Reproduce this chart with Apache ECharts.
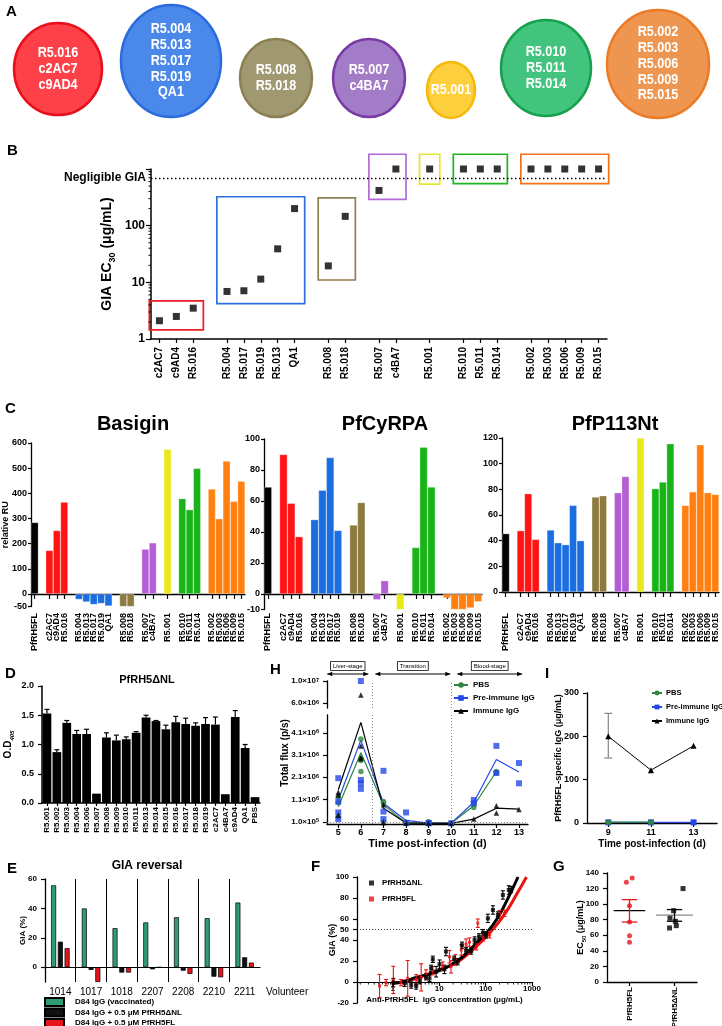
<!DOCTYPE html>
<html>
<head>
<meta charset="utf-8">
<title>PfRH5 mAb panels</title>
<script src="https://cdn.jsdelivr.net/npm/echarts@6/dist/echarts.min.js"></script>
<style>
  html, body { margin: 0; padding: 0; background: #fff; }
  #page { position: relative; width: 722px; height: 1026px; overflow: hidden; }
  .layer { position: absolute; left: 0; top: 0; width: 722px; height: 1026px; }
</style>
</head>
<body>
<div id="page"></div>
<script>
const FONT = '"Liberation Sans", Arial, Helvetica, sans-serif';

// ---- A: epitope bins ----
const clusterNames = [
  ["R5.016", "c2AC7", "c9AD4"],
  ["R5.004", "R5.013", "R5.017", "R5.019", "QA1"],
  ["R5.008", "R5.018"],
  ["R5.007", "c4BA7"],
  ["R5.001"],
  ["R5.010", "R5.011", "R5.014"],
  ["R5.002", "R5.003", "R5.006", "R5.009", "R5.015"]
];

// ---- B: GIA EC30, "" is a gap between bins ----
const giaCats = ["c2AC7", "c9AD4", "R5.016", "", "R5.004", "R5.017", "R5.019", "R5.013", "QA1", "",
  "R5.008", "R5.018", "", "R5.007", "c4BA7", "", "R5.001", "", "R5.010", "R5.011", "R5.014", "",
  "R5.002", "R5.003", "R5.006", "R5.009", "R5.015"];
const giaEC30 = [2.1, 2.5, 3.5, null, 6.9, 7.1, 11.4, 39, 200, null, 19.5, 146, null, 418, 1000, null,
  1000, null, 1000, 1000, 1000, null, 1000, 1000, 1000, 1000, 1000];
const giaNegligible = 700;
// [first index, last index, low, high] of each bin box
const giaBins = [[0, 2, 1.45, 4.7], [4, 8, 4.2, 324], [10, 11, 11, 310], [13, 14, 290, 1820],
  [16, 16, 540, 1820], [18, 20, 550, 1820], [22, 26, 550, 1820]];
const giaMinorTicks = [2, 3, 4, 5, 6, 7, 8, 9, 20, 30, 40, 50, 60, 70, 80, 90, 200, 300, 400, 500, 600, 700, 800, 900];

// ---- C: binding (relative RU) ----
const bsgCats = ["PfRH5FL", "", "c2AC7", "c9AD4", "R5.016", "", "R5.004", "R5.013", "R5.017", "R5.019", "QA1", "",
  "R5.008", "R5.018", "", "R5.007", "c4BA7", "", "R5.001", "", "R5.010", "R5.011", "R5.014", "",
  "R5.002", "R5.003", "R5.006", "R5.009", "R5.015"];
const bsgRU = [284, null, 173, 252, 365, null, -22, -32, -42, -38, -48, null, -50, -50, null, 178, 203, null,
  575, null, 379, 335, 499, null, 417, 299, 528, 368, 448];
const cyrCats = ["PfRH5FL", "", "c2AC7", "c9AD4", "R5.016", "", "R5.004", "R5.013", "R5.017", "R5.019", "",
  "R5.008", "R5.018", "", "R5.007", "c4BA7", "", "R5.001", "", "R5.010", "R5.011", "R5.014", "",
  "R5.002", "R5.003", "R5.006", "R5.009", "R5.015"];
const cyrRU = [69, null, 90, 58.5, 37, null, 48, 67, 88, 41, null, 44.5, 59, null, -3.7, 8.6, null,
  -10, null, 30, 94.6, 69, null, -2.6, -10, -10, -9, -5];
const p113Cats = bsgCats;
const p113RU = [45.5, null, 47.8, 76.6, 41, null, 48.3, 38.4, 36.9, 67.5, 40, null, 74, 75, null, 77.4, 90, null,
  120, null, 80.5, 85.7, 115.6, null, 67.5, 78, 114.8, 77.4, 76];

// ---- D: ELISA on PfRH5ΔNL ----
const odCats = ["R5.001", "R5.002", "R5.003", "R5.004", "R5.006", "R5.007", "R5.008", "R5.009", "R5.010", "R5.011",
  "R5.013", "R5.014", "R5.015", "R5.016", "R5.017", "R5.018", "R5.019", "c2AC7", "c4BA7", "c9AD4", "QA1", "PBS"];
const odMean = [1.53, 0.87, 1.37, 1.18, 1.18, 0.16, 1.12, 1.07, 1.09, 1.2, 1.46, 1.4, 1.26, 1.38, 1.35, 1.32, 1.35, 1.34, 0.15, 1.47, 0.94, 0.1];
const odErr = [0.07, 0.04, 0.04, 0.06, 0.08, 0, 0.08, 0.09, 0.04, 0.02, 0.04, 0.01, 0.07, 0.1, 0.1, 0.05, 0.11, 0.13, 0, 0.11, 0.06, 0];

// ---- E: GIA reversal ----
const volunteers = ["1014", "1017", "1018", "2207", "2208", "2210", "2211"];
const giaVacc = [55.7, 40, 26.6, 30.5, 34, 33.4, 44];
const giaPlusDNL = [17.4, -1.8, -3.6, -1.4, -2.3, -6.4, 6.8];
const giaPlusFL = [13, -10, -3.6, 0, -4.5, -6.8, 3.2];
const eSeriesNames = ["D84 IgG (vaccinated)", "D84 IgG + 0.5 μM PfRH5ΔNL", "D84 IgG + 0.5 μM PfRH5FL"];

// ---- H: total flux ----
const days = [5, 6, 7, 8, 9, 10, 11, 12, 13];
const fluxPBSMean = [0.78e6, 3.2e6, 0.86e6, 0.05e6, 0.05e6, 0.03e6, 0.82e6, 2.36e6, null];
const fluxPreMean = [1.08e6, 3.77e6, 0.93e6, 0.16e6, 0.04e6, 0.04e6, 0.98e6, 2.9e6, 2.34e6];
const fluxImmMean = [1.54e6, 4.57e6, 0.71e6, 0.04e6, 0.04e6, 0.03e6, 0.22e6, 0.71e6, 0.67e6];
const fluxPBS = [[5, 1.22e6], [5, 0.95e6], [5, 0.32e6], [6, 3.82e6], [6, 2.95e6], [6, 2.85e6], [6, 2.36e6],
  [7, 1.01e6], [7, 0.93e6], [7, 0.1e6], [8, 0.05e6], [8, 0.08e6], [9, 0.1e6], [9, 0.06e6], [10, 0.04e6],
  [11, 0.74e6], [11, 0.9e6], [12, 2.36e6], [12, 2.3e6]];
const fluxPre = [[5, 2.06e6], [5, 1.01e6], [5, 0.52e6], [5, 0.22e6], [6, 1e7], [6, 1.98e6], [6, 1.83e6], [6, 1.58e6],
  [7, 2.39e6], [7, 0.56e6], [7, 0.22e6], [8, 0.52e6], [8, 0.05e6], [9, 0.03e6], [9, 0.05e6], [10, 0.03e6],
  [11, 1.08e6], [11, 0.93e6], [12, 3.51e6], [12, 2.29e6], [13, 2.74e6], [13, 1.83e6]];
const fluxImm = [[5, 1.43e6], [5, 1.3e6], [5, 0.41e6], [6, 7.45e6], [6, 3.51e6], [6, 2.99e6], [6, 2.93e6],
  [7, 0.86e6], [7, 0.07e6], [8, 0.04e6], [9, 0.05e6], [10, 0.04e6], [11, 0.22e6], [12, 0.82e6], [12, 0.49e6], [13, 0.65e6]];
const fluxLowTicks = [1e5, 1.1e6, 2.1e6, 3.1e6, 4.1e6];
const fluxHighTicks = [6e6, 1e7];
const fluxBreak = 5e6;
const stageNames = ["Liver-stage", "Transition", "Blood-stage"];
const stageSpans = [[4.51, 6.33], [6.64, 9.96], [10.27, 13.14]];
const stageLines = [6.5, 10];

// ---- I: PfRH5FL-specific IgG ----
const igDays = [9, 11, 13];
const igPBS = [[9, 2], [11, 2]];
const igPre = [[9, 1.5], [11, 1.5], [13, 1.5]];
const igImm = [[9, 200], [11, 122], [13, 178]];
const igImmErr = [[9, 150, 253]];

// ---- F: GIA vs anti-PfRH5FL IgG ----
// [concentration, GIA %, error]
const fDNL = [[1.03, -0.6, 4], [1.8, -1.3, 3], [2.5, -2.9, 3], [3.2, -3.8, 3], [3.8, 1.3, 3], [5.2, 5, 3], [6.2, 3.5, 3],
  [6.7, 13, 3], [7.3, 21.6, 3], [8.6, 9.8, 5], [10.2, 17, 4], [13, 12, 4], [14, 29, 4], [21, 21.6, 3], [25, 19.4, 3],
  [31, 35, 3], [38, 30, 3], [49, 29.5, 3], [58, 40, 3], [72, 43, 3], [88, 47, 3], [102, 44.8, 3], [112, 60.6, 4],
  [144, 68.6, 4], [184, 63.8, 3], [236, 82.9, 4], [316, 87.6, 4], [356, 88, 3]];
const fFL = [[0.52, -3.8, 11], [0.72, -0.6, 3], [1.03, 2, 13], [1.5, -0.6, 3], [2.1, 3.5, 17], [3.2, 2, 5], [4.1, 4.4, 13],
  [5.2, 7.6, 4], [7.3, 10.8, 4], [12, 15, 4], [16.7, 24, 6], [18, 14.6, 6], [22.5, 21, 5], [30, 30.5, 5], [38, 36, 5],
  [45, 38, 4], [63, 33.6, 3], [68, 56, 4], [88, 43, 4], [122, 45, 3], [200, 65, 3], [255, 65.4, 3]];
const fCurveDNL = [[1, -1.2], [2, 1], [2.7, 3.5], [5, 6.5], [10, 10.8], [23.5, 19.4], [45, 30.5], [68, 38.4], [100, 45.7],
  [170, 59], [280, 76.5], [500, 100]];
const fCurveFL = [[1, -1.2], [2, 1], [5, 6.5], [10, 11.4], [23.5, 18.4], [45, 28], [100, 42.5], [170, 54], [280, 67],
  [460, 83], [760, 100]];
const fYTicks = [-20, 0, 20, 40, 50, 60, 80, 100];
const fMinorTicks = [0.2, 0.3, 0.4, 0.5, 0.6, 0.7, 0.8, 0.9, 2, 3, 4, 5, 6, 7, 8, 9, 20, 30, 40, 50, 60, 70, 80, 90,
  200, 300, 400, 500, 600, 700, 800, 900];

// ---- G: EC50 ----
const ec50Groups = ["PfRH5FL", "PfRH5ΔNL"];
const ec50FL = [[-0.07, 128], [0.06, 133.6], [0, 98], [0, 77], [0, 59.5], [0, 51]];
const ec50DNL = [[1.19, 120], [0.98, 91.6], [0.9, 82], [1.02, 78], [1.04, 72.4], [0.89, 69.4]];
// [group, mean, lower SEM, upper SEM]
const ec50Summary = [[0, 91.6, 77, 105.8], [1, 86, 78, 93]];

// ---------- styles ----------
const clusterFill = ["#fe4048", "#4a88ea", "#a09870", "#a27cc6", "#fecf3c", "#43c47e", "#ee9650"];
const clusterEdge = ["#e8101c", "#2a6cdc", "#8c8052", "#7a3aa6", "#f4b90a", "#17a14f", "#eb7b26"];
const clusterPos = [[58, 69, 44, 46], [171, 61, 50, 56], [276, 78, 36, 39], [369, 78, 36, 39],
  [451, 90, 24, 28], [546, 68, 45, 48], [658, 64, 51, 54]];
const groupColors = ["#ff1414", "#1a6ee0", "#8c7a3f", "#b35ed6", "#e8e81a", "#18b418", "#ff8010"];
const boxColors = ["#ee1c25", "#2e6fe0", "#8f7f52", "#b36ad8", "#e6e632", "#1fb51f", "#f47216"];

const clusterOf = {};
clusterNames.forEach((g, i) => g.forEach(n => { clusterOf[n] = i; }));
function mAbColor(name) {
  return name === "PfRH5FL" ? "#000" : groupColors[clusterOf[name]];
}

function merge(a, b) {
  const out = Object.assign({}, a);
  for (const k in b) {
    const v = b[k];
    if (v && typeof v === "object" && !Array.isArray(v) && a[k] && typeof a[k] === "object" && !Array.isArray(a[k])) {
      out[k] = merge(a[k], v);
    } else {
      out[k] = v;
    }
  }
  return out;
}

function axis(extra) {
  return merge({
    nameMoveOverlap: false,
    axisLine: { show: true, onZero: false, lineStyle: { color: "#000", width: 1.3 } },
    axisTick: { show: true, length: 4, lineStyle: { color: "#000", width: 1.2 } },
    axisLabel: { color: "#000", fontWeight: "bold", fontSize: 9, fontFamily: FONT },
    splitLine: { show: false },
    nameTextStyle: { color: "#000", fontWeight: "bold", fontSize: 10, fontFamily: FONT }
  }, extra || {});
}

function ticksAt(vals) {
  return { axisTick: { customValues: vals }, axisLabel: { customValues: vals } };
}

function draw(option) {
  const el = document.createElement("div");
  el.className = "layer";
  document.getElementById("page").appendChild(el);
  const chart = echarts.init(el);
  option.animation = false;
  option.textStyle = { fontFamily: FONT };
  if (option.grid) {
    option.grid = [].concat(option.grid).map(g => Object.assign({ containLabel: false, outerBoundsMode: "none" }, g));
  }
  chart.setOption(option);
  return chart;
}

function txt(x, y, text, font, extra) {
  return merge({
    type: "text", x: x, y: y,
    style: { text: text, font: font, fill: "#000", align: "left", verticalAlign: "top", textAlign: "left", textVerticalAlign: "top" }
  }, extra || {});
}
const centered = { align: "center", verticalAlign: "middle", textAlign: "center", textVerticalAlign: "middle" };

// vertical error bar with caps, [x, y, err]
function errBar(color, capPx) {
  return function (params, api) {
    const x = api.value(0), y = api.value(1), e = api.value(2);
    const lo = api.coord([x, y - e]), hi = api.coord([x, y + e]);
    const s = { stroke: color, lineWidth: 1.1 };
    return { type: "group", children: [
      { type: "line", shape: { x1: lo[0], y1: lo[1], x2: hi[0], y2: hi[1] }, style: s },
      { type: "line", shape: { x1: lo[0] - capPx, y1: lo[1], x2: lo[0] + capPx, y2: lo[1] }, style: s },
      { type: "line", shape: { x1: hi[0] - capPx, y1: hi[1], x2: hi[0] + capPx, y2: hi[1] }, style: s }
    ] };
  };
}

// ---------- A + letters + titles ----------
const textElems = [];
clusterNames.forEach((names, i) => {
  const p = clusterPos[i];
  textElems.push({ type: "ellipse", shape: { cx: p[0], cy: p[1], rx: p[2], ry: p[3] },
    style: { fill: clusterFill[i], stroke: clusterEdge[i], lineWidth: 2.5 } });
  textElems.push(txt(p[0], p[1], names.join("\n"), "bold 14px " + FONT,
    { scaleX: 0.9, style: merge(centered, { fill: "#fff", lineHeight: 15.8 }) }));
});
const letters = [["A", 6, 4], ["B", 7, 143], ["C", 5, 401], ["D", 5, 666], ["E", 7, 861], ["F", 311, 859],
  ["G", 553, 859], ["H", 270, 662], ["I", 545, 666]];
letters.forEach(l => textElems.push(txt(l[1], l[2], l[0], "bold 15px " + FONT)));
const titles = [["Basigin", 133, 424, 20], ["PfCyRPA", 385, 424, 20], ["PfP113Nt", 615, 424, 20],
  ["PfRH5ΔNL", 147, 680, 11], ["GIA reversal", 147, 866, 12]];
titles.forEach(t => textElems.push(txt(t[1], t[2], t[0], "bold " + t[3] + "px " + FONT, { style: centered })));
textElems.push(txt(266, 987, "Volunteer", "10px " + FONT));
textElems.push(txt(285, 753, "Total flux (p/s)", "bold 10px " + FONT, { rotation: Math.PI / 2, style: centered }));
draw({ graphic: { elements: textElems } });

// ---------- B ----------
draw({
  grid: { left: 151, top: 169, width: 456, height: 170 },
  xAxis: axis({ type: "category", data: giaCats, boundaryGap: true,
    axisLine: { lineStyle: { width: 1.5 } },
    axisTick: { alignWithLabel: true, length: 4, interval: (i, v) => v !== "" },
    axisLabel: { rotate: 90, interval: 0, fontSize: 10, margin: 8 } }),
  yAxis: axis({ type: "log", logBase: 10, min: 1, max: 1000,
    axisLine: { lineStyle: { width: 1.5 } }, axisTick: { length: 5 },
    axisLabel: { fontSize: 12, margin: 6, formatter: v => (v >= 999 ? "" : String(Math.round(v))) },
    name: "{t|GIA EC}{s|30}{t| (μg/mL)}", nameLocation: "middle", nameGap: 34,
    nameTextStyle: { rich: {
      t: { fontSize: 14, fontWeight: "bold", color: "#000", lineHeight: 20, fontFamily: FONT },
      s: { fontSize: 9, fontWeight: "bold", color: "#000", verticalAlign: "bottom", lineHeight: 11, fontFamily: FONT } } } }),
  series: [
    { type: "custom", clip: false, z: 1, data: giaBins,
      renderItem: (params, api) => {
        const band = api.size([1, 1])[0];
        const lo = api.coord([api.value(0), api.value(2)]);
        const hi = api.coord([api.value(1), api.value(3)]);
        const x0 = lo[0] - band * 0.6, x1 = hi[0] + band * 0.6;
        return { type: "rect", shape: { x: x0, y: hi[1], width: x1 - x0, height: lo[1] - hi[1] },
          style: { fill: "none", stroke: boxColors[params.dataIndex], lineWidth: 1.7 } };
      } },
    { type: "custom", clip: false, data: giaMinorTicks.map(v => [0, v]),
      renderItem: (params, api) => {
        const y = api.coord([0, api.value(1)])[1], x = params.coordSys.x;
        return { type: "line", shape: { x1: x - 2.5, y1: y, x2: x, y2: y }, style: { stroke: "#000", lineWidth: 1 } };
      } },
    { type: "scatter", symbol: "rect", symbolSize: 7, itemStyle: { color: "#000" }, z: 3,
      data: giaEC30.map((v, i) => [i, v]).filter(p => p[1] != null),
      markLine: { silent: true, symbol: "none", data: [{ yAxis: giaNegligible }],
        lineStyle: { color: "#000", type: [1.5, 2.5], width: 1.3 },
        label: { show: true, position: "start", formatter: "Negligible GIA", color: "#000", fontWeight: "bold", fontSize: 12, distance: 5 } } }
  ]
});

// ---------- C ----------
function bindingPanel(cats, vals, grid, yCfg, lblMargin, yName) {
  draw({
    grid: grid,
    xAxis: axis({ type: "category", data: cats, boundaryGap: true,
      axisLine: { onZero: true },
      axisTick: { alignWithLabel: true, length: 5, interval: (i, v) => v !== "" },
      axisLabel: { rotate: 90, interval: 0, fontSize: 9, margin: lblMargin } }),
    yAxis: axis(merge({ type: "value", name: yName || "", nameLocation: "middle", nameGap: 21,
      nameTextStyle: { fontSize: 9 }, axisTick: { length: 3 }, axisLabel: { fontSize: 9, margin: 4 } }, yCfg)),
    series: [{ type: "bar", barCategoryGap: "0%",
      itemStyle: { borderColor: "rgba(255,255,255,0.55)", borderWidth: 0.5 },
      data: vals.map((v, i) => (v == null ? null : { value: v, itemStyle: { color: mAbColor(cats[i]) } })) }]
  });
}
bindingPanel(bsgCats, bsgRU, { left: 31, top: 443, width: 214, height: 163.5 },
  merge({ min: -50, max: 600 }, ticksAt([-50, 0, 100, 200, 300, 400, 500, 600])), 6.5, "relative RU");
bindingPanel(cyrCats, cyrRU, { left: 264, top: 439, width: 218, height: 170.5 },
  merge({ min: -10, max: 100 }, ticksAt([-10, 0, 20, 40, 60, 80, 100])), 3.5);
bindingPanel(p113Cats, p113RU, { left: 502, top: 438, width: 217, height: 154 },
  { min: 0, max: 120, interval: 20 }, 21);

// ---------- D ----------
draw({
  grid: { left: 42, top: 686, width: 218, height: 117 },
  xAxis: axis({ type: "category", data: odCats, boundaryGap: true,
    axisLine: { lineStyle: { width: 1.5 } },
    axisTick: { alignWithLabel: true, length: 3 },
    axisLabel: { rotate: 90, interval: 0, fontSize: 8, margin: 4 } }),
  yAxis: axis({ type: "value", min: 0, max: 2, interval: 0.5,
    axisLine: { lineStyle: { width: 1.5 } },
    axisLabel: { formatter: v => v.toFixed(1) },
    name: "{a|O.D}{b|405}", nameLocation: "middle", nameGap: 27,
    nameTextStyle: { rich: {
      a: { fontSize: 10, fontWeight: "bold", color: "#000", lineHeight: 14, fontFamily: FONT },
      b: { fontSize: 6, fontStyle: "italic", fontWeight: "bold", color: "#000", verticalAlign: "bottom", lineHeight: 8, fontFamily: FONT } } } }),
  series: [
    { type: "bar", barCategoryGap: "12%", itemStyle: { color: "#000" }, data: odMean },
    { type: "custom", z: 3, data: odMean.map((v, i) => [i, v, odErr[i]]).filter(d => d[2] > 0),
      renderItem: (params, api) => {
        const x = api.value(0), v = api.value(1), e = api.value(2);
        const p0 = api.coord([x, v]), p1 = api.coord([x, v + e]);
        const w = api.size([1, 0])[0] * 0.25;
        const s = { stroke: "#000", lineWidth: 1.2 };
        return { type: "group", children: [
          { type: "line", shape: { x1: p0[0], y1: p0[1], x2: p1[0], y2: p1[1] }, style: s },
          { type: "line", shape: { x1: p1[0] - w, y1: p1[1], x2: p1[0] + w, y2: p1[1] }, style: s }
        ] };
      } }
  ]
});

// ---------- E ----------
draw({
  grid: { left: 45, top: 879, width: 215, height: 103 },
  legend: { left: 44, top: 997, height: 40, orient: "vertical", itemWidth: 19, itemHeight: 8, itemGap: 0.5, padding: 0, icon: "rect",
    textStyle: { fontWeight: "bold", fontSize: 8, color: "#000", padding: [0, 0, 0, 6] }, data: eSeriesNames },
  xAxis: axis({ type: "category", data: volunteers, boundaryGap: true,
    axisLine: { onZero: true, lineStyle: { width: 1.2 } }, axisTick: { show: false },
    axisLabel: { fontWeight: "normal", fontSize: 10, margin: 5 },
    splitLine: { show: true, showMinLine: false, showMaxLine: false, lineStyle: { color: "#000", width: 1 } } }),
  yAxis: axis(merge({ type: "value", min: -10, max: 60,
    name: "GIA (%)", nameLocation: "middle", nameGap: 18, nameTextStyle: { fontSize: 8 },
    axisLabel: { fontSize: 8 } }, ticksAt([0, 20, 40, 60]))),
  series: [
    { name: eSeriesNames[0], type: "bar", barWidth: 5, barGap: "35%", data: giaVacc,
      itemStyle: { color: "#2e9d73", borderColor: "#000", borderWidth: 0.7 } },
    { name: eSeriesNames[1], type: "bar", barWidth: 5, barGap: "35%", data: giaPlusDNL,
      itemStyle: { color: "#111", borderColor: "#000", borderWidth: 0.7 } },
    { name: eSeriesNames[2], type: "bar", barWidth: 5, barGap: "35%", data: giaPlusFL,
      itemStyle: { color: "#e8141c", borderColor: "#000", borderWidth: 0.7 } }
  ]
});

// ---------- H ----------
function sci(v) {
  const e = Math.floor(Math.log10(v) + 1e-9);
  return (v / Math.pow(10, e)).toFixed(1) + "×10{s|" + e + "}";
}
const sciRich = { s: { fontSize: 5.5, fontWeight: "bold", color: "#000", verticalAlign: "top", lineHeight: 6, fontFamily: FONT } };
const hX = { type: "value", min: 4.5, max: 13.4 };
const hColors = ["#2e8540", "#2448e8", "#000"];
const hNames = ["PBS", "Pre-immune IgG", "Immune IgG"];
const hSymbols = ["circle", "rect", "triangle"];
const hMeans = [fluxPBSMean, fluxPreMean, fluxImmMean];
const hPoints = [fluxPBS, fluxPre, fluxImm];
const hSeries = [];
hNames.forEach((n, k) => {
  hSeries.push({ name: n, type: "line", xAxisIndex: 0, yAxisIndex: 0, symbol: hSymbols[k], showSymbol: false,
    color: hColors[k], lineStyle: { color: hColors[k], width: 1.2 }, z: 2,
    data: days.map((d, i) => [d, hMeans[k][i]]) });
});
hNames.forEach((n, k) => {
  hSeries.push({ name: n, type: "scatter", xAxisIndex: 0, yAxisIndex: 0, symbol: hSymbols[k], symbolSize: k === 1 ? 6 : 5.5,
    itemStyle: { color: hColors[k] }, z: 3, data: hPoints[k].filter(p => p[1] < fluxBreak) });
  hSeries.push({ name: n, type: "scatter", xAxisIndex: 1, yAxisIndex: 1, symbol: hSymbols[k], symbolSize: k === 1 ? 6 : 5.5,
    itemStyle: { color: hColors[k] }, z: 3, data: hPoints[k].filter(p => p[1] > fluxBreak) });
});
const dotted = { color: "#777", type: [1, 2], width: 0.9 };
hSeries.push({ type: "line", xAxisIndex: 0, yAxisIndex: 0, data: [],
  markLine: { silent: true, symbol: "none", label: { show: false }, lineStyle: dotted,
    data: stageLines.map(v => ({ xAxis: v })).concat([{ yAxis: fluxLowTicks[0] }]) } });
hSeries.push({ type: "line", xAxisIndex: 1, yAxisIndex: 1, data: [],
  markLine: { silent: true, symbol: "none", label: { show: false }, lineStyle: dotted,
    data: stageLines.map(v => ({ xAxis: v })) } });
hSeries.push({ type: "custom", xAxisIndex: 1, yAxisIndex: 1, clip: false, data: stageSpans,
  renderItem: (params, api) => {
    const a = api.coord([api.value(0), 1e7])[0], b = api.coord([api.value(1), 1e7])[0];
    const top = params.coordSys.y, y = top - 7, h = 2.2;
    return { type: "group", children: [
      { type: "line", shape: { x1: a, y1: y, x2: b, y2: y }, style: { stroke: "#000", lineWidth: 1 } },
      { type: "polygon", shape: { points: [[a, y], [a + 5, y - h], [a + 5, y + h]] }, style: { fill: "#000" } },
      { type: "polygon", shape: { points: [[b, y], [b - 5, y - h], [b - 5, y + h]] }, style: { fill: "#000" } },
      { type: "text", x: (a + b) / 2, y: top - 15,
        style: merge(centered, { text: stageNames[params.dataIndex], font: "6px " + FONT, fill: "#000",
          backgroundColor: "#fff", borderColor: "#000", borderWidth: 0.8, padding: [1, 2] }) }
    ] };
  } });
draw({
  grid: [{ left: 327, top: 715, width: 201, height: 109 }, { left: 327, top: 681, width: 201, height: 27 }],
  legend: { left: 453, top: 681, orient: "vertical", itemWidth: 14, itemHeight: 7, itemGap: 5, padding: 0, data: hNames,
    textStyle: { fontWeight: "bold", fontSize: 8, color: "#000" } },
  xAxis: [
    axis(merge(merge(hX, ticksAt(days)), { gridIndex: 0, name: "Time post-infection (d)", nameLocation: "middle", nameGap: 14,
      nameTextStyle: { fontSize: 11 }, axisLabel: { margin: 4 } })),
    merge(hX, { gridIndex: 1, show: false })
  ],
  yAxis: [
    axis(merge({ gridIndex: 0, type: "value", min: 0, max: 4.9e6, axisLabel: { fontSize: 8, formatter: sci, rich: sciRich } }, ticksAt(fluxLowTicks))),
    axis(merge({ gridIndex: 1, type: "value", min: 5.1e6, max: 1e7, axisLabel: { fontSize: 8, formatter: sci, rich: sciRich } }, ticksAt(fluxHighTicks)))
  ],
  series: hSeries
});

// ---------- I ----------
draw({
  grid: { left: 587, top: 693, width: 130, height: 130 },
  legend: { left: 651, top: 689, orient: "vertical", itemWidth: 10, itemHeight: 6, itemGap: 6, padding: 0, data: hNames,
    textStyle: { fontWeight: "bold", fontSize: 7.5, color: "#000", padding: [0, 0, 0, -1] } },
  xAxis: axis(merge({ type: "value", min: 8, max: 14.1, name: "Time post-infection (d)", nameLocation: "middle", nameGap: 16,
    nameTextStyle: { fontSize: 10 }, axisLabel: { fontSize: 9, margin: 5 } }, ticksAt(igDays))),
  yAxis: axis({ type: "value", min: 0, max: 300, interval: 100,
    name: "PfRH5FL-specific IgG (μg/mL)", nameLocation: "middle", nameGap: 24, nameTextStyle: { fontSize: 9 } }),
  series: [
    { name: hNames[0], type: "line", data: igPBS, symbol: "circle", symbolSize: 5.5, color: hColors[0], lineStyle: { width: 1.2 }, z: 3 },
    { name: hNames[1], type: "line", data: igPre, symbol: "rect", symbolSize: 6, color: hColors[1], lineStyle: { width: 1.2 }, z: 2 },
    { name: hNames[2], type: "line", data: igImm, symbol: "triangle", symbolSize: 6, color: hColors[2], lineStyle: { width: 1 }, z: 4 },
    { type: "custom", data: igImmErr, z: 1,
      renderItem: (params, api) => {
        const lo = api.coord([api.value(0), api.value(1)]), hi = api.coord([api.value(0), api.value(2)]);
        const s = { stroke: "#888", lineWidth: 1.2 };
        return { type: "group", children: [
          { type: "line", shape: { x1: lo[0], y1: lo[1], x2: hi[0], y2: hi[1] }, style: s },
          { type: "line", shape: { x1: lo[0] - 4, y1: lo[1], x2: lo[0] + 4, y2: lo[1] }, style: s },
          { type: "line", shape: { x1: hi[0] - 4, y1: hi[1], x2: hi[0] + 4, y2: hi[1] }, style: s }
        ] };
      } }
  ]
});

// ---------- F ----------
draw({
  grid: { left: 357, top: 877, width: 175, height: 126 },
  legend: { left: 369, top: 879, orient: "vertical", itemWidth: 5, itemHeight: 5, itemGap: 8, padding: 0,
    data: [{ name: "PfRH5ΔNL", icon: "rect" }, { name: "PfRH5FL", icon: "rect" }],
    textStyle: { fontWeight: "bold", fontSize: 8, color: "#000", padding: [0, 0, 0, 3] } },
  xAxis: axis({ type: "log", logBase: 10, min: 0.17, max: 1000, offset: -21,
    axisLine: { onZero: false, lineStyle: { width: 1.2 } }, axisTick: { length: 4 },
    axisLabel: { fontSize: 8, margin: 3, showMinLabel: false, formatter: v => (v >= 0.99 ? String(Math.round(v)) : "") },
    name: "Anti-PfRH5FL  IgG concentration (μg/mL)", nameLocation: "middle", nameGap: 14, nameTextStyle: { fontSize: 8 } }),
  yAxis: axis(merge({ type: "value", min: -20, max: 100, axisLabel: { fontSize: 8 },
    name: "GIA (%)", nameLocation: "middle", nameGap: 20, nameTextStyle: { fontSize: 9 } }, ticksAt(fYTicks))),
  series: [
    { type: "custom", clip: false, data: fMinorTicks.map(v => [v, 0]),
      renderItem: (params, api) => {
        const p = api.coord([api.value(0), 0]);
        return { type: "line", shape: { x1: p[0], y1: p[1], x2: p[0], y2: p[1] + 2.5 }, style: { stroke: "#000", lineWidth: 0.9 } };
      } },
    { type: "line", data: fCurveFL, smooth: true, symbol: "none", lineStyle: { color: "#ee1111", width: 3 }, z: 2,
      markLine: { silent: true, symbol: "none", label: { show: false }, data: [{ yAxis: 50 }],
        lineStyle: { color: "#000", type: [1, 2], width: 0.8 } } },
    { type: "line", data: fCurveDNL, smooth: true, symbol: "none", lineStyle: { color: "#000", width: 3 }, z: 2 },
    { type: "custom", data: fFL, renderItem: errBar("#ee1111", 2), z: 3 },
    { type: "custom", data: fDNL, renderItem: errBar("#000", 2), z: 3 },
    { name: "PfRH5FL", type: "scatter", data: fFL, symbol: "rect", symbolSize: 3, itemStyle: { color: "#ee1111" }, z: 4 },
    { name: "PfRH5ΔNL", type: "scatter", data: fDNL, symbol: "rect", symbolSize: 4, itemStyle: { color: "#000" }, z: 4 }
  ]
});

// ---------- G ----------
const ec50MeanColor = ["#000", "#888"];
const ec50SemColor = ["#e8141c", "#000"];
const ec50MeanHalf = [0.35, 0.41];
draw({
  grid: { left: 607, top: 873, width: 90, height: 109 },
  xAxis: axis(merge({ type: "value", min: -0.5, max: 1.5,
    axisLabel: { rotate: 90, fontSize: 8, margin: 5, formatter: v => ec50Groups[Math.round(v)] } }, ticksAt([0, 1]))),
  yAxis: axis({ type: "value", min: 0, max: 140, interval: 20, axisLabel: { fontSize: 8 },
    name: "{a|EC}{b|50}{a| (μg/mL)}", nameLocation: "middle", nameGap: 20,
    nameTextStyle: { rich: {
      a: { fontSize: 9, fontWeight: "bold", color: "#000", lineHeight: 13, fontFamily: FONT },
      b: { fontSize: 6, fontWeight: "bold", color: "#000", verticalAlign: "bottom", lineHeight: 7, fontFamily: FONT } } } }),
  series: [
    { type: "custom", data: ec50Summary, z: 2,
      renderItem: (params, api) => {
        const i = params.dataIndex, x = api.value(0);
        const unit = api.size([1, 0])[0];
        const m = api.coord([x, api.value(1)]), lo = api.coord([x, api.value(2)]), hi = api.coord([x, api.value(3)]);
        const mw = unit * ec50MeanHalf[i], cw = unit * 0.17;
        const es = { stroke: ec50SemColor[i], lineWidth: 1.3 };
        return { type: "group", children: [
          { type: "line", shape: { x1: m[0] - mw, y1: m[1], x2: m[0] + mw, y2: m[1] }, style: { stroke: ec50MeanColor[i], lineWidth: 1.3 } },
          { type: "line", shape: { x1: lo[0], y1: lo[1], x2: hi[0], y2: hi[1] }, style: es },
          { type: "line", shape: { x1: lo[0] - cw, y1: lo[1], x2: lo[0] + cw, y2: lo[1] }, style: es },
          { type: "line", shape: { x1: hi[0] - cw, y1: hi[1], x2: hi[0] + cw, y2: hi[1] }, style: es }
        ] };
      } },
    { type: "scatter", data: ec50FL, symbol: "circle", symbolSize: 5, itemStyle: { color: "#e8141c" }, z: 3 },
    { type: "scatter", data: ec50DNL, symbol: "rect", symbolSize: 5, itemStyle: { color: "#000" }, z: 3 }
  ]
});
</script>
</body>
</html>
